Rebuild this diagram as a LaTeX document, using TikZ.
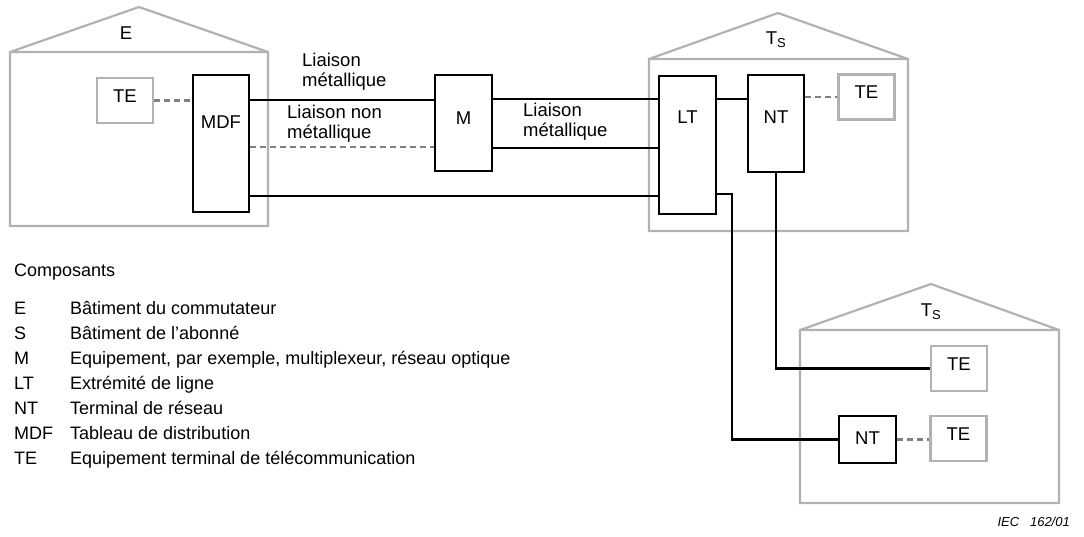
\documentclass[tikz,border=0pt]{standalone}
\usepackage{fontspec}
\setmainfont{Liberation Sans}
\usetikzlibrary{positioning}

\begin{document}
\begin{tikzpicture}[
  x=1pt, y=-1pt,
  font=\fontsize{18.5}{20}\selectfont,
  box/.style={draw, line width=2.2pt, inner sep=0pt, text height=13.3pt, text depth=0pt},
  term/.style={draw=black!30, line width=2.2pt, inner sep=0pt, minimum width=56pt, minimum height=45pt, text height=13.3pt, text depth=10pt},
  house/.style={draw=black!30, line width=2.2pt},
  link/.style={line width=2.2pt},
  radio/.style={line width=2.2pt, draw=black!50, dash pattern=on 6pt off 4pt},
  lbl/.style={align=left, anchor=west, inner sep=0pt},
  legend/.style={align=left, anchor=north west, inner sep=0pt, font=\fontsize{18}{25}\selectfont}
]
\useasboundingbox (0,0) rectangle (1084,536);

% buildings
\draw[house] (10,52) rectangle (268,226) (10,52) -- (139,7) -- (268,52);
\draw[house] (649,59) rectangle (908,231) (649,59) -- (778,13) -- (908,59);
\draw[house] (800,330) rectangle (1059,503) (800,330) -- (931,284) -- (1059,330);

\node (e) at (126,33) {E};
\node (ts) at (776,40) {T\textsubscript{S}};
\node (ts2) at (931,312) {T\textsubscript{S}};

% equipment
\node[box, minimum width=56pt, minimum height=137pt, text depth=43pt] (mdf) at (221,143.5) {MDF};
\node[box, minimum width=57pt, minimum height=96pt, text depth=10pt] (m) at (463.5,123) {M};
\node[box, minimum width=57pt, minimum height=138pt, text depth=56pt] (lt) at (687.5,145) {LT};
\node[box, minimum width=56pt, minimum height=97pt, text depth=13pt] (nt) at (776,123.5) {NT};
\node[box, minimum width=57pt, minimum height=47pt, text depth=3pt] (nt2) at (867.5,439.5) {NT};

\node[term] (te) at (125,100.5) {TE};
\node[term] (te2) at (866.5,97) {TE};
\node[term] (te3) at (959,368.5) {TE};
\node[term] (te4) at (958.5,438.5) {TE};

% links
\draw[radio] (te.east) -- (te.east -| mdf.west);
\draw[link] (mdf.east |- 0,100) -- (m.west |- 0,100);
\draw[radio] (mdf.east |- 0,147) -- (m.west |- 0,147);
\draw[link] (mdf.east |- 0,196) -- (lt.west |- 0,196);
\draw[link] (m.east |- 0,99) -- (lt.west |- 0,99);
\draw[link] (m.east |- 0,148) -- (lt.west |- 0,148);
\draw[link] (lt.east |- 0,99) -- (nt.west |- 0,99);
\draw[radio] (nt.east |- te2) -- (te2.west);
\draw[link] (lt.east |- 0,194) -- ++(15,0) |- (nt2.west);
\draw[link] (nt.south) |- (te3.west);
\draw[radio] (nt2.east) -- (nt2.east -| te4.west);

\node[lbl] (met) at (302,72) {Liaison\\métallique};
\node[lbl] (nonmet) at (287,124) {Liaison non\\métallique};
\node[lbl] (met2) at (523,122) {Liaison\\métallique};

% legend
\node[legend] (key) at (14,264) {Composants\\[13pt]
  \makebox[56pt][l]{E}Bâtiment du commutateur\\
  \makebox[56pt][l]{S}Bâtiment de l’abonné\\
  \makebox[56pt][l]{M}Equipement, par exemple, multiplexeur, réseau optique\\
  \makebox[56pt][l]{LT}Extrémité de ligne\\
  \makebox[56pt][l]{NT}Terminal de réseau\\
  \makebox[56pt][l]{MDF}Tableau de distribution\\
  \makebox[56pt][l]{TE}Equipement terminal de télécommunication};

\node[anchor=east, inner sep=0pt, font=\fontsize{13}{15}\itshape] (iec) at (1070,522) {IEC\ \ \ 162/01};
\end{tikzpicture}
\end{document}
